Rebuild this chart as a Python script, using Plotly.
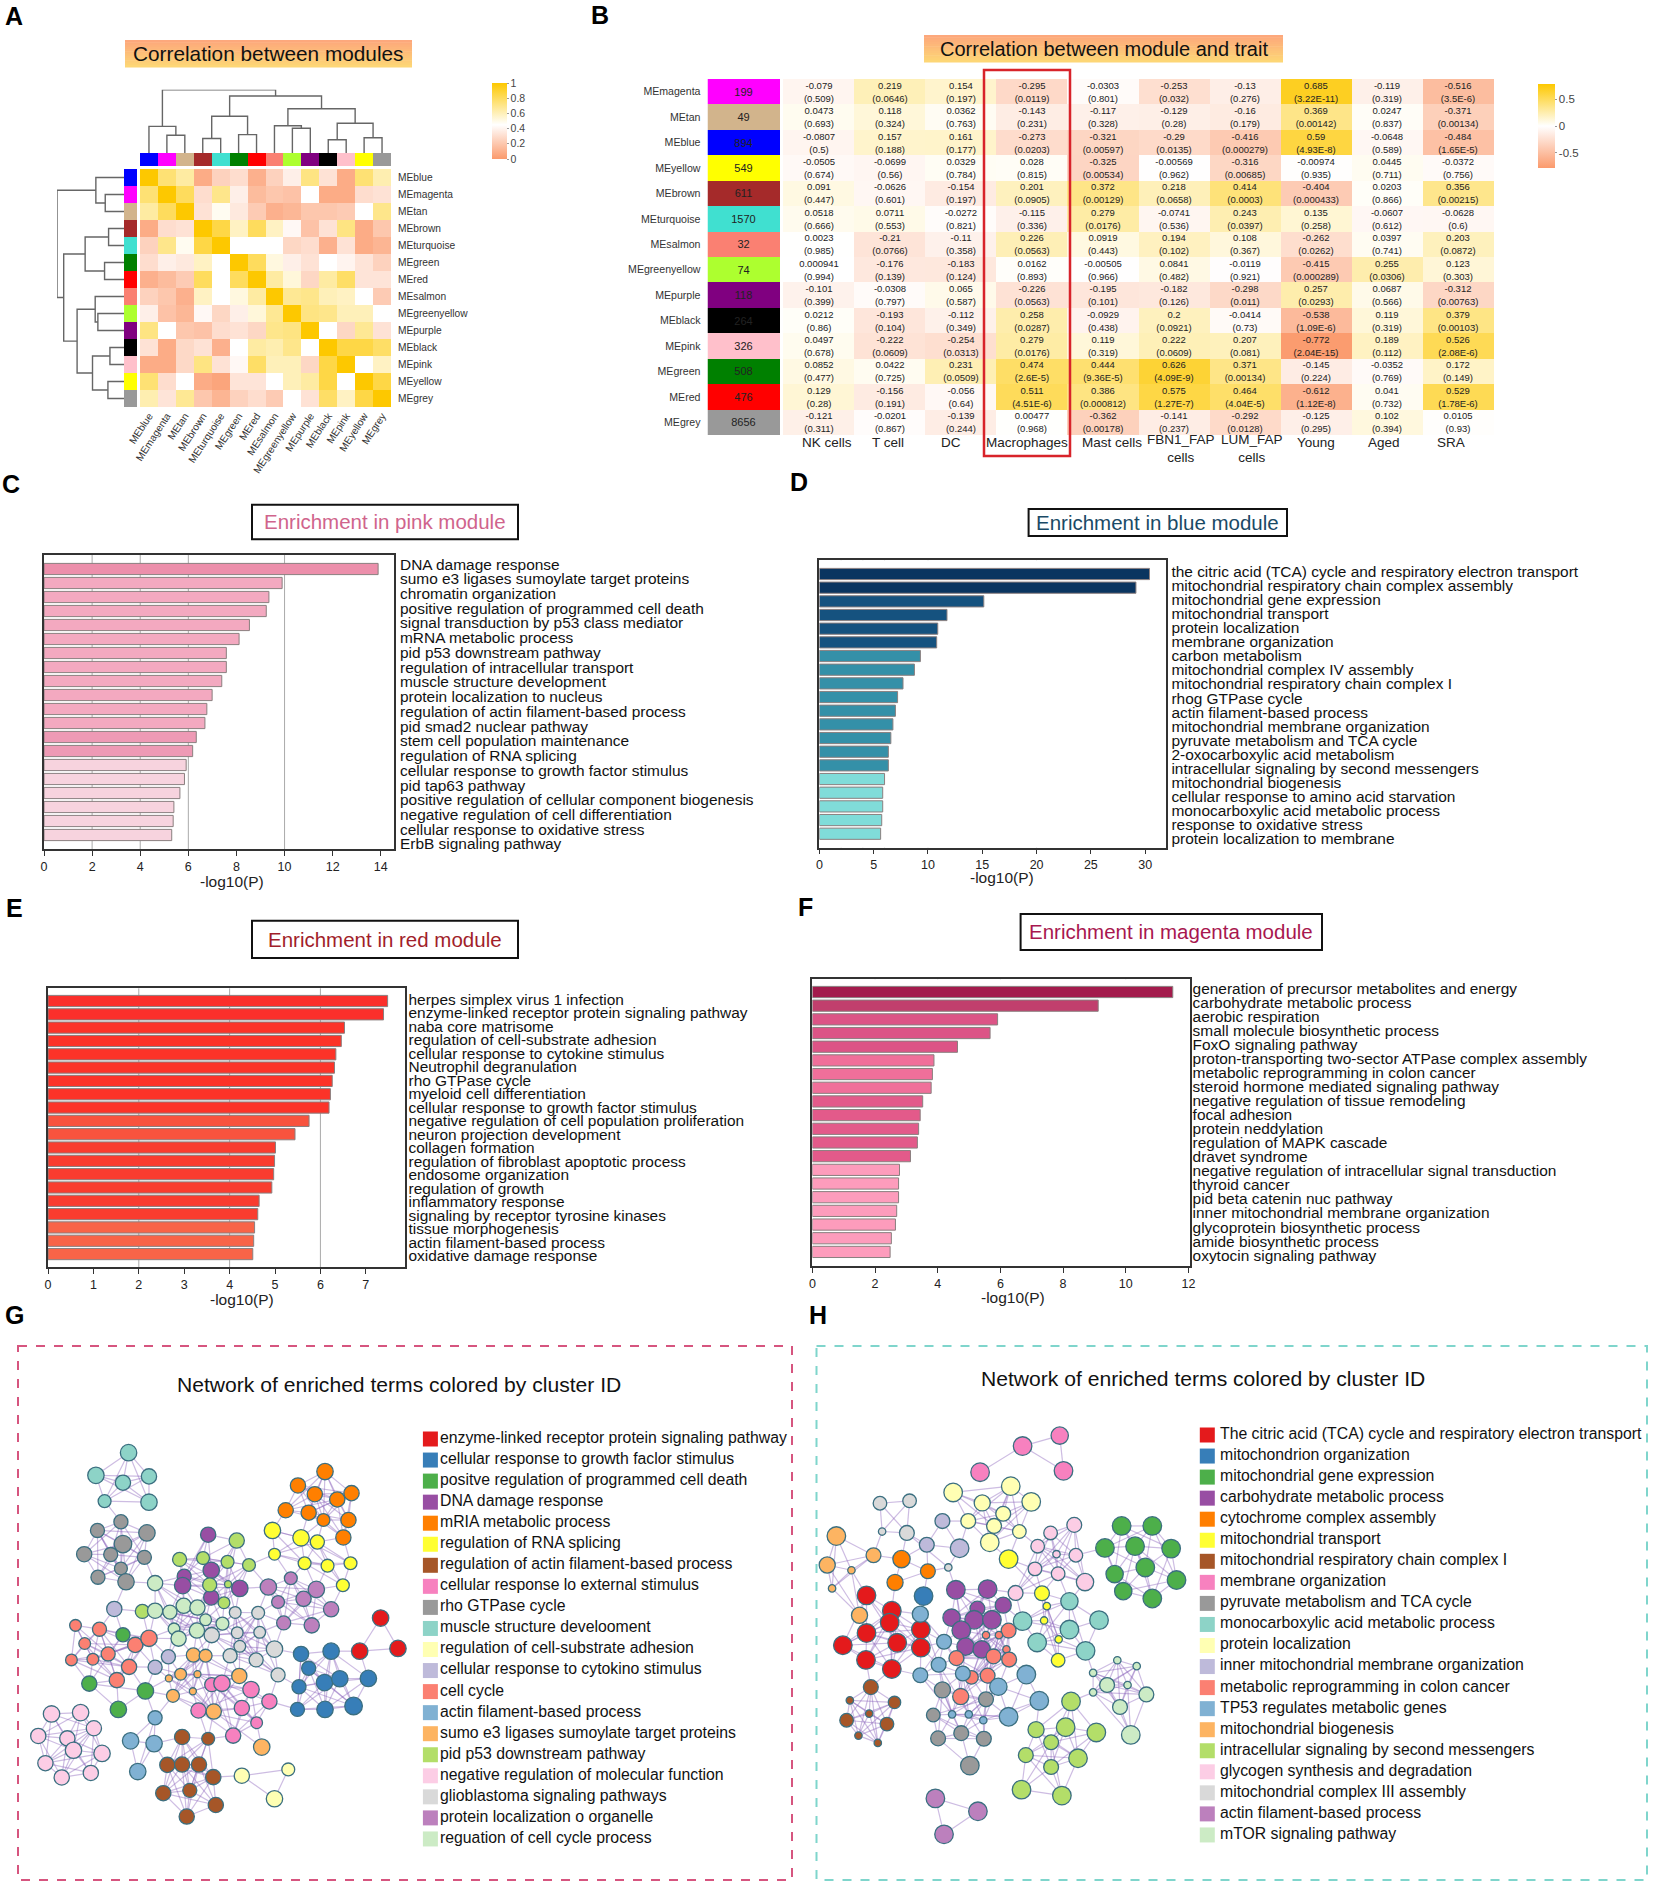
import plotly.graph_objects as go

W, H = 1654, 1887
FONT = "Liberation Sans"

# ---- panel A data
modules_a = ["MEblue", "MEmagenta", "MEtan", "MEbrown", "MEturquoise", "MEgreen", "MEred",
             "MEsalmon", "MEgreenyellow", "MEpurple", "MEblack", "MEpink", "MEyellow", "MEgrey"]
module_colors_a = ["#0000ff", "#ff00ff", "#d2b48c", "#a52a2a", "#40e0d0", "#008000", "#ff0000",
                   "#fa8072", "#adff2f", "#800080", "#000000", "#ffc0cb", "#ffff00", "#999999"]
corr_modules = [
    [1, .75, .65, .08, .25, .3, .1, .25, .38, .72, .32, .08, .75, .62],
    [.75, 1, .8, .3, .7, .38, .15, .2, .18, .45, .08, .08, .3, .32],
    [.65, .8, 1, .32, .48, .35, .22, .1, .13, .2, .2, .22, .45, .7],
    [.08, .3, .32, 1, .85, .58, .8, .58, .42, .18, .32, .72, .08, .2],
    [.25, .7, .48, .85, 1, .45, .45, .45, .27, .3, .1, .32, .08, .12],
    [.3, .38, .35, .58, .45, 1, .8, .52, .38, .32, .45, .4, .33, .25],
    [.1, .15, .22, .8, .45, .8, 1, .65, .53, .27, .65, .78, .33, .33],
    [.25, .2, .1, .58, .45, .52, .65, 1, .68, .7, .6, .58, .45, .22],
    [.38, .18, .13, .42, .27, .38, .53, .68, 1, .72, .7, .6, .6, .45],
    [.72, .45, .2, .18, .3, .32, .27, .7, .72, 1, .45, .27, .68, .32],
    [.32, .08, .28, .32, .1, .45, .65, .62, .7, .45, 1, .85, .85, .78],
    [.08, .08, .28, .72, .32, .42, .78, .6, .6, .27, .85, 1, .45, .58],
    [.75, .3, .45, .08, .05, .33, .33, .45, .6, .65, .85, .45, 1, .85],
    [.62, .33, .68, .2, .12, .25, .3, .22, .45, .32, .78, .58, .85, 1],
]
# (child, child, height); leaves are 0-13, each merge gets the next id
merges = [(1, 2, .28), (0, 14, .42), (3, 4, .23), (5, 6, .29), (16, 17, .58), (8, 9, .39),
          (7, 19, .43), (10, 11, .21), (12, 13, .24), (21, 22, .47), (20, 23, .70),
          (18, 24, .90), (15, 25, 1.0)]

# ---- panel B data
modules_b = ["MEmagenta", "MEtan", "MEblue", "MEyellow", "MEbrown", "MEturquoise", "MEsalmon",
             "MEgreenyellow", "MEpurple", "MEblack", "MEpink", "MEgreen", "MEred", "MEgrey"]
module_colors_b = ["#ff00ff", "#d2b48c", "#0000ff", "#ffff00", "#a52a2a", "#40e0d0", "#fa8072",
                   "#adff2f", "#800080", "#000000", "#ffc0cb", "#008000", "#ff0000", "#999999"]
module_sizes = [199, 49, 894, 549, 611, 1570, 32, 74, 118, 264, 326, 508, 476, 8656]
traits = ["NK cells", "T cell", "DC", "Macrophages", "Mast cells", "FBN1_FAP<br>cells",
          "LUM_FAP<br>cells", "Young", "Aged", "SRA"]
trait_corr = [
    ["-0.079", "0.219", "0.154", "-0.295", "-0.0303", "-0.253", "-0.13", "0.685", "-0.119", "-0.516"],
    ["0.0473", "0.118", "0.0362", "-0.143", "-0.117", "-0.129", "-0.16", "0.369", "0.0247", "-0.371"],
    ["-0.0807", "0.157", "0.161", "-0.273", "-0.321", "-0.29", "-0.416", "0.59", "-0.0648", "-0.484"],
    ["-0.0505", "-0.0699", "0.0329", "0.028", "-0.325", "-0.00569", "-0.316", "-0.00974", "0.0445", "-0.0372"],
    ["0.091", "-0.0626", "-0.154", "0.201", "0.372", "0.218", "0.414", "-0.404", "0.0203", "0.356"],
    ["0.0518", "0.0711", "-0.0272", "-0.115", "0.279", "-0.0741", "0.243", "0.135", "-0.0607", "-0.0628"],
    ["0.0023", "-0.21", "-0.11", "0.226", "0.0919", "0.194", "0.108", "-0.262", "0.0397", "0.203"],
    ["0.000941", "-0.176", "-0.183", "0.0162", "-0.00505", "0.0841", "-0.0119", "-0.415", "0.255", "0.123"],
    ["-0.101", "-0.0308", "0.065", "-0.226", "-0.195", "-0.182", "-0.298", "0.257", "0.0687", "-0.312"],
    ["0.0212", "-0.193", "-0.112", "0.258", "-0.0929", "0.2", "-0.0414", "-0.538", "0.119", "0.379"],
    ["0.0497", "-0.222", "-0.254", "0.279", "0.119", "0.222", "0.207", "-0.772", "0.189", "0.526"],
    ["0.0852", "0.0422", "0.231", "0.474", "0.444", "0.626", "0.371", "-0.145", "-0.0352", "0.172"],
    ["0.129", "-0.156", "-0.056", "0.511", "0.386", "0.575", "0.464", "-0.612", "0.041", "0.529"],
    ["-0.121", "-0.0201", "-0.139", "0.00477", "-0.362", "-0.141", "-0.292", "-0.125", "0.102", "0.0105"],
]
trait_p = [
    ["0.509", "0.0646", "0.197", "0.0119", "0.801", "0.032", "0.276", "3.22E-11", "0.319", "3.5E-6"],
    ["0.693", "0.324", "0.763", "0.231", "0.328", "0.28", "0.179", "0.00142", "0.837", "0.00134"],
    ["0.5", "0.188", "0.177", "0.0203", "0.00597", "0.0135", "0.000279", "4.93E-8", "0.589", "1.65E-5"],
    ["0.674", "0.56", "0.784", "0.815", "0.00534", "0.962", "0.00685", "0.935", "0.711", "0.756"],
    ["0.447", "0.601", "0.197", "0.0905", "0.00129", "0.0658", "0.0003", "0.000433", "0.866", "0.00215"],
    ["0.666", "0.553", "0.821", "0.336", "0.0176", "0.536", "0.0397", "0.258", "0.612", "0.6"],
    ["0.985", "0.0766", "0.358", "0.0563", "0.443", "0.102", "0.367", "0.0262", "0.741", "0.0872"],
    ["0.994", "0.139", "0.124", "0.893", "0.966", "0.482", "0.921", "0.000289", "0.0306", "0.303"],
    ["0.399", "0.797", "0.587", "0.0563", "0.101", "0.126", "0.011", "0.0293", "0.566", "0.00763"],
    ["0.86", "0.104", "0.349", "0.0287", "0.438", "0.0921", "0.73", "1.09E-6", "0.319", "0.00103"],
    ["0.678", "0.0609", "0.0313", "0.0176", "0.319", "0.0609", "0.081", "2.04E-15", "0.112", "2.08E-6"],
    ["0.477", "0.725", "0.0509", "2.6E-5", "9.36E-5", "4.09E-9", "0.00134", "0.224", "0.769", "0.149"],
    ["0.28", "0.191", "0.64", "4.51E-6", "0.000812", "1.27E-7", "4.04E-5", "1.12E-8", "0.732", "1.78E-6"],
    ["0.311", "0.867", "0.244", "0.968", "0.00178", "0.237", "0.0128", "0.295", "0.394", "0.93"],
]

# ---- enrichment bars
pink_terms = ["DNA damage response", "sumo e3 ligases sumoylate target proteins", "chromatin organization",
              "positive regulation of programmed cell death", "signal transduction by p53 class mediator",
              "mRNA metabolic process", "pid p53 downstream pathway", "regulation of intracellular transport",
              "muscle structure development", "protein localization to nucleus",
              "regulation of actin filament-based process", "pid smad2 nuclear pathway",
              "stem cell population maintenance", "regulation of RNA splicing",
              "cellular response to growth factor stimulus", "pid tap63 pathway",
              "positive regulation of cellular component biogenesis", "negative regulation of cell differentiation",
              "cellular response to oxidative stress", "ErbB signaling pathway"]
pink_vals = [13.89, 9.90, 9.35, 9.24, 8.54, 8.11, 7.58, 7.58, 7.39, 6.99,
             6.77, 6.69, 6.33, 6.18, 5.91, 5.84, 5.65, 5.40, 5.37, 5.31]
pink_colors = ["#ec8fab"] + ["#f3a9c0"] * 11 + ["#ee9ab5"] * 2 + ["#f7d3de"] * 6

blue_terms = ["the citric acid (TCA) cycle and respiratory electron transport",
              "mitochondrial respiratory chain complex assembly", "mitochondrial gene expression",
              "mitochondrial transport", "protein localization", "membrane organization", "carbon metabolism",
              "mitochondrial complex IV assembly", "mitochondrial respiratory chain complex I", "rhog GTPase cycle",
              "actin filament-based process", "mitochondrial membrane organization",
              "pyruvate metabolism and TCA cycle", "2-oxocarboxylic acid metabolism",
              "intracellular signaling by second messengers", "mitochondrial biogenesis",
              "cellular response to amino acid starvation", "monocarboxylic acid metabolic process",
              "response to oxidative stress", "protein localization to membrane"]
blue_vals = [30.4, 29.15, 15.14, 11.75, 10.9, 10.8, 9.3, 8.75, 7.7, 7.2,
             7.0, 6.77, 6.58, 6.35, 6.35, 6.0, 5.83, 5.83, 5.74, 5.64]
blue_colors = ["#0a3560"] * 2 + ["#15527f"] * 4 + ["#3490a8"] * 9 + ["#80dcd9"] * 5

red_terms = ["herpes simplex virus 1 infection", "enzyme-linked receptor protein signaling pathway",
             "naba core matrisome", "regulation of cell-substrate adhesion", "cellular response to cytokine stimulus",
             "Neutrophil degranulation", "rho GTPase cycle", "myeloid cell differentiation",
             "cellular response to growth factor stimulus", "negative regulation of cell population proliferation",
             "neuron projection development", "collagen formation", "regulation of fibroblast apoptotic process",
             "endosome organization", "regulation of growth", "inflammatory response",
             "signaling by receptor tyrosine kinases", "tissue morphogenesis", "actin filament-based process",
             "oxidative damage response"]
red_vals = [7.48, 7.39, 6.53, 6.46, 6.34, 6.31, 6.26, 6.22, 6.19, 5.75,
            5.44, 5.01, 4.99, 4.97, 4.93, 4.65, 4.62, 4.55, 4.53, 4.51]
red_colors = ["#fb2f2b"] * 2 + ["#fc3328"] * 7 + ["#f8533e"] * 2 + ["#f93c2f"] * 6 + ["#f86448"] * 3

magenta_terms = ["generation of precursor metabolites and energy", "carbohydrate metabolic process",
                 "aerobic respiration", "small molecule biosynthetic process", "FoxO signaling pathway",
                 "proton-transporting two-sector ATPase complex assembly", "metabolic reprogramming in colon cancer",
                 "steroid hormone mediated signaling pathway", "negative regulation of tissue remodeling",
                 "focal adhesion", "protein neddylation", "regulation of MAPK cascade", "dravet syndrome",
                 "negative regulation of intracellular signal transduction", "thyroid cancer",
                 "pid beta catenin nuc pathway", "inner mitochondrial membrane organization",
                 "glycoprotein biosynthetic process", "amide biosynthetic process", "oxytocin signaling pathway"]
magenta_vals = [11.5, 9.12, 5.91, 5.67, 4.63, 3.88, 3.83, 3.79, 3.52, 3.44,
                3.39, 3.35, 3.13, 2.78, 2.75, 2.75, 2.69, 2.65, 2.52, 2.48]
magenta_colors = ["#a31b4c", "#c13f6d"] + ["#dc5486"] * 3 + ["#f06f9a"] * 3 + ["#e35a8a"] * 5 + ["#fd9cbc"] * 7

# ---- networks: (layout x, layout y, radius) of the terms, one list per cluster
g_terms = ["enzyme-linked receptor protein signaling pathway", "cellular response to growth faclor stimulus",
           "positve regulation of programmed cell death", "DNA damage response", "mRIA metabolic process",
           "regulation of RNA splicing", "regulation of actin filament-based process",
           "cellular response lo external stimulus", "rho GTPase cycle", "muscle structure develooment",
           "regulation of cell-substrate adhesion", "cellular response to cytokino stimulus", "cell cycle",
           "actin filament-based process", "sumo e3 ligases sumoylate target proteins", "pid p53 downstream pathway",
           "negative regulation of molecular function", "glioblastoma signaling pathways",
           "protein localization o organelle", "reguation of cell cycle process"]
h_terms = ["The citric acid (TCA) cycle and respiratory electron transport", "mitochondrion organization",
           "mitochondrial gene expression", "carbohydrate metabolic process", "cytochrome complex assembly",
           "mitochondrial transport", "mitochondrial respiratory chain complex I", "membrane organization",
           "pyruvate metabolism and TCA cycle", "monocarboxylic acid metabolic process", "protein localization",
           "inner mitochondrial membrane organization", "metabolic reprogramming in colon cancer",
           "TP53 regulates metabolic genes", "mitochondrial biogenesis", "intracellular signaling by second messengers",
           "glycogen synthesis and degradation", "mitochondrial complex III assembly", "actin filament-based process",
           "mTOR signaling pathway"]
cluster_colors = ["#e41a1c", "#377eb8", "#4daf4a", "#984ea3", "#ff7f00", "#ffff33", "#a65628", "#f781bf", "#999999",
                  "#8dd3c7", "#ffffb3", "#bebada", "#fb8072", "#80b1d3", "#fdb462", "#b3de69", "#fccde5", "#d9d9d9",
                  "#bc80bd", "#ccebc5"]

g_enzyme = [(746, 797, 14), (780, 884, 14), (705, 892, 14)]
g_growth = [(590, 900, 13), (649, 892, 14), (605, 941, 12), (636, 982, 14), (666, 971, 14), (722, 970, 14),
            (586, 994, 12), (583, 1059, 12), (637, 1059, 14), (693, 1049, 15)]
g_death = [(241, 845, 12), (175, 985, 13), (285, 1006, 14), (232, 1059, 14)]
g_dna = [(408, 558, 13), (414, 660, 14), (361, 677, 12), (358, 704, 14), (470, 712, 14), (414, 738, 13)]
g_mrna = [(637, 377, 14), (584, 417, 13), (617, 442, 13), (689, 439, 13), (661, 457, 13), (560, 488, 13),
          (605, 495, 13), (634, 516, 11), (683, 516, 13), (673, 566, 13)]
g_splicing = [(534, 546, 14), (590, 567, 14), (622, 579, 12), (538, 614, 10), (597, 640, 11), (642, 647, 11),
              (687, 640, 11), (672, 703, 11)]
g_actin_reg = [(357, 1138, 13), (408, 1143, 11), (328, 1218, 13), (357, 1217, 13), (390, 1217, 13), (418, 1253, 13),
               (320, 1299, 13), (372, 1291, 12), (423, 1333, 13), (366, 1366, 13)]
g_external = [(415, 988, 12), (435, 984, 14), (492, 1002, 14), (528, 1036, 13), (389, 1062, 13), (474, 1055, 13),
              (503, 1097, 10), (457, 1134, 13)]
g_rho = [(237, 521, 12), (191, 546, 12), (288, 553, 14), (241, 585, 15), (165, 614, 13), (217, 615, 12),
         (283, 623, 12), (237, 655, 11), (192, 680, 12), (247, 693, 14)]
g_muscle = [(252, 323, 14), (188, 388, 14), (292, 391, 13), (241, 409, 13), (205, 462, 11), (292, 465, 14)]
g_substrate = [(474, 1249, 13), (565, 1231, 11), (538, 1315, 14)]
g_cytokine = [(224, 771, 13), (330, 908, 12), (304, 938, 12)]
g_cycle = [(148, 818, 10), (195, 829, 12), (166, 870, 10), (265, 874, 13), (292, 855, 14), (212, 900, 12),
           (182, 915, 10), (140, 917, 10), (253, 937, 13), (229, 975, 13)]
g_actin = [(304, 1083, 12), (256, 1149, 14), (302, 1157, 14), (270, 1237, 14)]
g_sumo = [(379, 903, 12), (403, 905, 11), (354, 958, 10), (331, 970, 6), (387, 958, 6), (469, 963, 13),
          (339, 1020, 11), (378, 1007, 6), (419, 1065, 13), (513, 1167, 14)]
g_p53 = [(464, 575, 13), (352, 629, 12), (398, 625, 11), (446, 636, 11), (488, 645, 11), (411, 702, 12),
         (447, 700, 6), (439, 753, 10), (279, 778, 12)]
g_negative = [(101, 1072, 14), (158, 1068, 14), (184, 1113, 13), (75, 1135, 13), (132, 1142, 13), (144, 1176, 14),
              (200, 1185, 14), (89, 1213, 13), (121, 1254, 13), (178, 1241, 13)]
g_glioblastoma = [(461, 781, 10), (506, 782, 11), (415, 846, 13), (465, 839, 10), (509, 838, 10), (470, 878, 10),
                  (538, 886, 14), (451, 905, 12), (502, 917, 12), (545, 960, 12)]
g_organelle = [(570, 683, 11), (526, 708, 14), (620, 715, 14), (595, 742, 13), (545, 751, 11), (649, 772, 13),
               (556, 811, 12), (611, 818, 13)]
g_cycle_process = [(304, 697, 13), (304, 776, 13), (333, 780, 12), (360, 762, 13), (387, 767, 13), (403, 802, 10),
                   (341, 828, 10), (386, 833, 13), (350, 856, 13), (436, 813, 11)]
g_clusters = [g_enzyme, g_growth, g_death, g_dna, g_mrna, g_splicing, g_actin_reg, g_external, g_rho, g_muscle,
              g_substrate, g_cytokine, g_cycle, g_actin, g_sumo, g_p53, g_negative, g_glioblastoma, g_organelle,
              g_cycle_process]

h_tca = [(105, 732, 15), (152, 776, 15), (148, 810, 15), (206, 830, 15), (105, 840, 15), (162, 868, 15),
         (61, 875, 15), (206, 882, 15), (104, 917, 15), (152, 943, 15)]
h_mito_org = [(211, 734, 15)]
h_gene = [(579, 533, 15), (636, 533, 15), (548, 596, 15), (604, 591, 15), (671, 598, 15), (623, 652, 15),
          (566, 671, 14), (681, 688, 15), (582, 720, 14), (636, 741, 15)]
h_carb = [(271, 716, 15), (330, 714, 15), (311, 770, 12), (359, 760, 13), (263, 796, 14), (305, 802, 15),
          (338, 802, 15), (281, 832, 15), (289, 879, 14), (319, 887, 14)]
h_cytochrome = [(170, 628, 14), (219, 663, 12), (158, 695, 13)]
h_transport = [(369, 628, 15), (431, 726, 12), (440, 763, 6), (435, 804, 6), (462, 858, 6), (461, 918, 11)]
h_complex1 = [(113, 995, 12), (157, 1039, 10), (74, 1033, 6), (110, 1071, 6), (68, 1090, 11), (143, 1101, 11),
              (90, 1134, 6), (126, 1155, 6)]
h_membrane = [(464, 274, 14), (395, 304, 15), (471, 375, 15), (316, 379, 15)]
h_pyruvate = [(246, 1003, 13), (327, 1030, 12), (229, 1075, 11), (281, 1127, 12), (238, 1142, 12), (323, 1143, 12),
              (297, 1220, 15)]
h_mono = [(395, 806, 15), (482, 749, 14), (537, 803, 15), (482, 830, 15), (422, 867, 15), (512, 891, 15)]
h_localization = [(373, 419, 15), (266, 437, 15), (411, 464, 15), (320, 467, 13), (359, 498, 12), (294, 519, 12),
                  (342, 533, 12), (389, 549, 11), (334, 580, 15)]
h_inner = [(246, 519, 12), (278, 597, 15), (217, 587, 12)]
h_reprogram = [(369, 833, 12), (327, 846, 6), (351, 846, 6), (365, 887, 6), (341, 907, 12), (370, 916, 12),
               (272, 912, 12), (300, 967, 11), (330, 962, 12), (280, 1022, 13)]
h_tp53 = [(205, 786, 13), (249, 865, 12), (239, 931, 12), (205, 961, 12), (284, 956, 12), (402, 959, 15),
          (350, 994, 14), (426, 1034, 15), (369, 1080, 15), (264, 1073, 6), (295, 1073, 6), (322, 1090, 6)]
h_biogenesis = [(49, 562, 15), (118, 617, 12), (32, 645, 13), (77, 660, 6), (41, 712, 6), (92, 789, 13)]
h_second = [(485, 1036, 15), (420, 1117, 13), (475, 1110, 15), (532, 1125, 15), (448, 1153, 12), (401, 1190, 12),
            (498, 1199, 15), (448, 1224, 12), (393, 1289, 15), (468, 1306, 15)]
h_glycogen = [(491, 530, 12), (447, 553, 11), (423, 591, 11), (458, 614, 6), (494, 617, 11), (418, 656, 11),
              (461, 670, 11), (511, 694, 14), (382, 725, 12)]
h_complex3 = [(130, 468, 11), (185, 461, 11), (180, 553, 12), (134, 549, 6), (257, 652, 6)]
h_actin = [(233, 1314, 15), (312, 1351, 15), (249, 1417, 15)]
h_mtor = [(571, 918, 6), (607, 935, 6), (526, 954, 6), (552, 989, 12), (590, 989, 6), (625, 1016, 12),
          (526, 1010, 6), (576, 1052, 12), (596, 1132, 15)]
h_clusters = [h_tca, h_mito_org, h_gene, h_carb, h_cytochrome, h_transport, h_complex1, h_membrane, h_pyruvate,
              h_mono, h_localization, h_inner, h_reprogram, h_tp53, h_biogenesis, h_second, h_glycogen, h_complex3,
              h_actin, h_mtor]

# ---- figure helpers, everything below is placed in page pixels
fig = go.Figure()
axis_count = 1
HIDDEN = dict(visible=False, fixedrange=True)


def add_axes(left, top, right, bottom, xa=None, ya=None):
    global axis_count
    axis_count += 1
    n = axis_count
    fig.update_layout({
        f"xaxis{n}": dict(domain=[left / W, right / W], anchor=f"y{n}", **(xa or HIDDEN)),
        f"yaxis{n}": dict(domain=[1 - bottom / H, 1 - top / H], anchor=f"x{n}", **(ya or HIDDEN)),
    })
    return f"x{n}", f"y{n}"


def note(text, x, y, size, color="#111111", xanchor="center", **kw):
    fig.add_annotation(text=text, x=x / W, y=1 - y / H, xref="paper", yref="paper", showarrow=False,
                       xanchor=xanchor, yanchor="middle", font=dict(size=size, color=color, family=FONT), **kw)


def rect(x0, y0, x1, y1, **kw):
    fig.add_shape(type="rect", xref="paper", yref="paper", x0=x0 / W, x1=x1 / W,
                  y0=1 - y0 / H, y1=1 - y1 / H, **kw)


def gradient_title(text, x0, y0, x1, y1, size):
    steps = 12
    for i in range(steps):
        t = i / (steps - 1)
        col = f"rgb(253,{int(168 + t * 46)},{int(124 - t * 6)})"
        rect(x0, y0 + (y1 - y0) * i / steps, x1, y0 + (y1 - y0) * (i + 1) / steps + .5,
             fillcolor=col, line=dict(width=0), layer="below")
    note(text, (x0 + x1) / 2, (y0 + y1) / 2, size)


def strip(colors, names, left, top, right, bottom, vertical, text=None, ya=None):
    n = len(colors)
    idx = list(range(n))
    scale = []
    for i, c in enumerate(colors):
        scale += [[i / n, c], [(i + 1) / n, c]]
    if vertical:
        z = [[i] for i in idx]
        xa_, ya_ = add_axes(left, top, right, bottom, None,
                            ya or dict(visible=False, range=[n - .5, -.5], fixedrange=True))
        tr = go.Heatmap(z=z, x=[0], y=idx, colorscale=scale, zmin=-.5, zmax=n - .5, showscale=False,
                        xaxis=xa_, yaxis=ya_, hoverinfo="skip")
        if text:
            tr.text = [[t] for t in text]
            tr.texttemplate = "%{text}"
            tr.textfont = dict(size=11, color="#222222", family=FONT)
    else:
        xa_, ya_ = add_axes(left, top, right, bottom,
                            dict(visible=False, range=[-.5, n - .5], fixedrange=True), None)
        tr = go.Heatmap(z=[idx], x=idx, y=[0], colorscale=scale, zmin=-.5, zmax=n - .5, showscale=False,
                        xaxis=xa_, yaxis=ya_, hoverinfo="skip")
    fig.add_trace(tr)


def dendro_paths(n_leaves, links):
    pos = {i: float(i) for i in range(n_leaves)}
    hgt = {i: 0.0 for i in range(n_leaves)}
    p, h = [], []
    for k, (a, b, height) in enumerate(links):
        p += [pos[a], pos[a], pos[b], pos[b], None]
        h += [hgt[a], height, height, hgt[b], None]
        pos[n_leaves + k] = (pos[a] + pos[b]) / 2
        hgt[n_leaves + k] = height
    return p, h


def text_column(labels, left, right, first_y, step, size=15.45):
    # left aligned column of labels with its own row spacing
    n = len(labels)
    top = first_y - step
    bottom = first_y + n * step
    xa_, ya_ = add_axes(left, top, right, bottom, dict(visible=False, range=[0, 1], fixedrange=True),
                        dict(visible=False, range=[n, -1], fixedrange=True))
    fig.add_trace(go.Scatter(x=[0] * n, y=list(range(n)), text=labels, mode="text", textposition="middle right",
                             textfont=dict(size=size, color="#111111", family=FONT), cliponaxis=False,
                             xaxis=xa_, yaxis=ya_, hoverinfo="skip"))


def bar_panel(letter, letter_xy, title, title_color, title_box, terms, vals, colors, box, xmax, ticks,
              bar_first, bar_step, label_x, label_first, label_step, xlabel_xy):
    note(f"<b>{letter}</b>", letter_xy[0], letter_xy[1], 25, "#000000")
    x0, y0, x1, y1 = title_box
    rect(x0, y0, x1, y1, fillcolor="white", line=dict(color="#111111", width=2))
    note(title, (x0 + x1) / 2, (y0 + y1) / 2, 20.5, title_color)
    left, top, right, bottom = box
    n = len(vals)
    xa_, ya_ = add_axes(
        left, top, right, bottom,
        dict(range=[0, xmax], tickvals=ticks, ticks="outside", ticklen=5, tickwidth=1, tickcolor="#333333",
             showgrid=False, zeroline=False, showline=True, mirror=True, linecolor="#333333", linewidth=1.5,
             tickfont=dict(size=12.5, color="#222222"), fixedrange=True),
        dict(range=[(bottom - bar_first) / bar_step, (top - bar_first) / bar_step], showticklabels=False,
             ticks="", showgrid=False, zeroline=False, showline=True, mirror=True, linecolor="#333333",
             linewidth=1.5, fixedrange=True))
    for g in [2, 4, 6, 10, 20]:
        if g < xmax:
            fig.add_shape(type="line", xref=xa_, yref=f"{ya_} domain", x0=g, x1=g, y0=0, y1=1,
                          line=dict(color="#aaaaaa", width=1), layer="below")
    fig.add_trace(go.Bar(x=vals, y=list(range(n)), orientation="h", width=11.2 / bar_step,
                         marker=dict(color=colors, line=dict(color="#8a7f7f", width=1)),
                         xaxis=xa_, yaxis=ya_, hoverinfo="skip"))
    text_column(terms, label_x, W, label_first, label_step)
    note("-log10(P)", xlabel_xy[0], xlabel_xy[1], 15.5, "#222222")


def network(letter, letter_xy, box, dash_color, title_xy, clusters, terms, scale_x, offset_x,
            legend_x, legend_first, legend_text_x, legend_right):
    note(f"<b>{letter}</b>", letter_xy[0], letter_xy[1], 25, "#000000")
    rect(box[0], box[1], box[2], box[3], line=dict(color=dash_color, width=2, dash="dash"))
    note("Network of enriched terms colored by cluster ID", title_xy[0], title_xy[1], 21.1)
    y_scale = 1568 / 547
    xa_, ya_ = add_axes(offset_x, 1340, offset_x + 1568 / scale_x, 1887,
                        dict(visible=False, range=[0, 1568], fixedrange=True),
                        dict(visible=False, range=[1568, 0], fixedrange=True))
    nodes = []
    for c, cluster in enumerate(clusters):
        nodes += [(x, y, r, c) for x, y, r in cluster]
    ex, ey = [], []
    for i, a in enumerate(nodes):
        for b in nodes[i + 1:]:
            d = (((a[0] - b[0]) / scale_x) ** 2 + ((a[1] - b[1]) / y_scale) ** 2) ** .5
            if d < (60 if a[3] == b[3] else 30):
                ex += [a[0], b[0], None]
                ey += [a[1], b[1], None]
    fig.add_trace(go.Scatter(x=ex, y=ey, mode="lines", line=dict(color="rgba(135,95,185,0.42)", width=1.2),
                             xaxis=xa_, yaxis=ya_, hoverinfo="skip"))
    fig.add_trace(go.Scatter(x=[a[0] for a in nodes], y=[a[1] for a in nodes], mode="markers",
                             marker=dict(size=[2.3 * a[2] / scale_x for a in nodes],
                                         color=[cluster_colors[a[3]] for a in nodes],
                                         line=dict(color="#3b6f80", width=1.3), opacity=1),
                             xaxis=xa_, yaxis=ya_, hoverinfo="skip"))
    step = 21.05
    n = len(terms)
    xa2, ya2 = add_axes(legend_x, legend_first - step, legend_right, legend_first + n * step,
                        dict(visible=False, range=[0, 1], fixedrange=True),
                        dict(visible=False, range=[n, -1], fixedrange=True))
    fig.add_trace(go.Scatter(x=[0] * n, y=list(range(n)), mode="markers", cliponaxis=False,
                             marker=dict(symbol="square", size=15, color=cluster_colors, line=dict(width=0)),
                             xaxis=xa2, yaxis=ya2, hoverinfo="skip"))
    text_column(terms, legend_text_x, legend_right, legend_first, step, size=15.8)


# ---- panel A
note("<b>A</b>", 14, 16, 25, "#000000")
gradient_title("Correlation between modules", 125, 40, 412, 67, 20.8)
orange_scale = [[0, "#fb9a6c"], [.45, "#ffffff"], [1, "#fdc800"]]
xa, ya = add_axes(
    140, 169, 391, 407,
    dict(range=[-.5, 13.5], tickvals=list(range(14)), ticktext=modules_a, tickangle=-57, ticks="", showgrid=False,
         zeroline=False, tickfont=dict(size=10.2, color="#333333"), fixedrange=True),
    dict(range=[13.5, -.5], tickvals=list(range(14)), ticktext=modules_a, side="right", ticks="", showgrid=False,
         zeroline=False, ticklabelstandoff=6, tickfont=dict(size=10.2, color="#333333"), fixedrange=True))
fig.add_trace(go.Heatmap(z=corr_modules, x=list(range(14)), y=list(range(14)), colorscale=orange_scale, zmin=0, zmax=1,
                         xaxis=xa, yaxis=ya, hoverinfo="skip",
                         colorbar=dict(x=492 / W, xanchor="left", xpad=0, y=1 - 121 / H, yanchor="middle", ypad=0,
                                       lenmode="pixels", len=76, thicknessmode="pixels", thickness=15, outlinewidth=0,
                                       tickvals=[0, .2, .4, .6, .8, 1], ticktext=["0", "0.2", "0.4", "0.6", "0.8", "1"],
                                       ticks="outside", ticklen=2, tickcolor="#999999",
                                       tickfont=dict(size=10.5, color="#444444"))))
strip(module_colors_a, modules_a, 140, 153, 391, 166, False)
strip(module_colors_a, modules_a, 124, 169, 137, 407, True)
dp, dh = dendro_paths(14, merges)
xa, ya = add_axes(140, 89.7, 391, 153, dict(visible=False, range=[-.5, 13.5], fixedrange=True),
                  dict(visible=False, range=[0, 1], fixedrange=True))
fig.add_trace(go.Scatter(x=dp, y=dh, mode="lines", line=dict(color="#666666", width=1.4), xaxis=xa, yaxis=ya,
                         cliponaxis=False, hoverinfo="skip"))
xa, ya = add_axes(57, 169, 124, 407, dict(visible=False, range=[1, 0], fixedrange=True),
                  dict(visible=False, range=[13.5, -.5], fixedrange=True))
fig.add_trace(go.Scatter(x=dh, y=dp, mode="lines", line=dict(color="#666666", width=1.4), xaxis=xa, yaxis=ya,
                         cliponaxis=False, hoverinfo="skip"))

# ---- panel B
note("<b>B</b>", 600, 15, 25, "#000000")
gradient_title("Correlation between module and trait", 924, 35, 1283, 62, 20)
trait_z = [[float(v) for v in row] for row in trait_corr]
trait_text = [[f"{v}<br>({p})" for v, p in zip(rv, rp)] for rv, rp in zip(trait_corr, trait_p)]
trait_scale = [[0, "#fb9a6c"], [.5, "#ffffff"], [1, "#fdc800"]]
xa, ya = add_axes(783, 79, 1494, 435, dict(visible=False, range=[-.5, 9.5], fixedrange=True),
                  dict(visible=False, range=[13.5, -.5], fixedrange=True))
fig.add_trace(go.Heatmap(z=trait_z, x=list(range(10)), y=list(range(14)), text=trait_text, texttemplate="%{text}",
                         textfont=dict(size=9.5, color="#222222", family=FONT), colorscale=trait_scale,
                         zmin=-.79, zmax=.79, xaxis=xa, yaxis=ya, hoverinfo="skip",
                         colorbar=dict(x=1538 / W, xanchor="left", xpad=0, y=1 - 126 / H, yanchor="middle", ypad=0,
                                       lenmode="pixels", len=84, thicknessmode="pixels", thickness=17, outlinewidth=0,
                                       tickvals=[-.5, 0, .5], ticktext=["-0.5", "0", "0.5"], ticks="outside", ticklen=2,
                                       tickcolor="#999999", tickfont=dict(size=11.5, color="#444444"))))
strip(module_colors_b, modules_b, 707.5, 79, 780, 435, True, [str(s) for s in module_sizes],
      dict(range=[13.5, -.5], tickvals=list(range(14)), ticktext=modules_b, ticks="", showgrid=False, zeroline=False,
           ticklabelstandoff=6, showline=False, tickfont=dict(size=10.6, color="#333333"), fixedrange=True))
trait_x = [827, 888, 951, 1027, 1112, 1181, 1252, 1316, 1384, 1451]
for t, tx in zip(traits, trait_x):
    note(t, tx, 443 if "<br>" not in t else 449, 13.5, "#222222")
rect(984, 70, 1070, 456, line=dict(color="#d8232a", width=2.5))

# ---- panels C-F
bar_panel("C", (11, 484), "Enrichment in pink module", "#d0648c", (252, 504.7, 518, 539.3),
          pink_terms, pink_vals, pink_colors, (44, 555, 394, 849), 14.55, [0, 2, 4, 6, 8, 10, 12, 14],
          569, 14, 400, 565.7, 14.73, (232, 881.7))
bar_panel("D", (799, 482), "Enrichment in blue module", "#1a4a66", (1028.6, 509, 1287, 536),
          blue_terms, blue_vals, blue_colors, (819.4, 560.3, 1165.8, 847.7), 31.9, [0, 5, 10, 15, 20, 25, 30],
          574, 13.67, 1171.4, 573.3, 14.04, (1002.5, 877.7))
bar_panel("E", (14, 908), "Enrichment in red module", "#a11e2a", (252, 920.7, 518, 958),
          red_terms, red_vals, red_colors, (48, 988.3, 404.6, 1267.3), 7.854, [0, 1, 2, 3, 4, 5, 6, 7],
          1001, 13.32, 408.5, 1001, 13.5, (242, 1299))
bar_panel("F", (805, 907), "Enrichment in magenta module", "#a8174f", (1020.6, 914, 1322, 950),
          magenta_terms, magenta_vals, magenta_colors, (812.4, 979.3, 1190, 1266), 12.05, [0, 2, 4, 6, 8, 10, 12],
          992, 13.68, 1192.6, 990, 14.04, (1013, 1297))

# ---- panels G, H
network("G", (14, 1315), (18, 1346, 792, 1880), "#d6557f", (399, 1384), g_clusters, g_terms, 1.96, 0,
        430.4, 1439, 440, 800)
network("H", (818, 1315), (816.5, 1346, 1647, 1880), "#7fd5cc", (1203, 1378.4), h_clusters, h_terms, 1.858, 810,
        1207.3, 1435, 1220, 1650)

fig.update_layout(width=W, height=H, margin=dict(l=0, r=0, t=0, b=0, autoexpand=False), paper_bgcolor="white",
                  plot_bgcolor="white", showlegend=False, barmode="overlay",
                  font=dict(family=FONT, color="#222222"))

fig.write_html("out.html", config=dict(displayModeBar=False),
               post_script="document.body.style.margin='0';")
